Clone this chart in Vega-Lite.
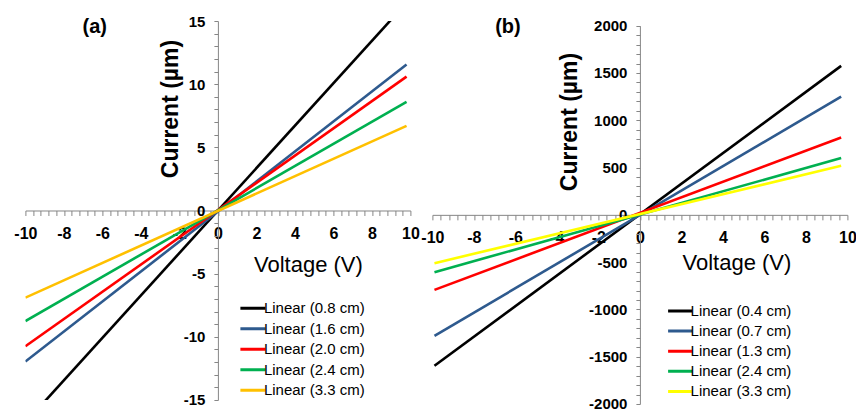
{
  "$schema": "https://vega.github.io/schema/vega-lite/v6.json",
  "autosize": {"type": "pad"},
  "padding": {"left": 13.4, "top": 14, "right": 0, "bottom": 0},
  "bounds": "flush",
  "spacing": 22,
  "background": "white",
  "config": {"view": {"stroke": null}, "font": "Liberation Sans"},
  "resolve": {"scale": {"x": "independent", "y": "independent", "color": "independent"}, "legend": {"color": "independent"}},
  "hconcat": [
    {
      "width": 385,
      "height": 379,
      "layer": [
        {
          "data": {"values": [
            {"series": "Linear (0.8 cm)", "V": -10, "I": -16.8},
            {"series": "Linear (0.8 cm)", "V": 9.8, "I": 16.45},
            {"series": "Linear (1.6 cm)", "V": -10, "I": -11.95},
            {"series": "Linear (1.6 cm)", "V": 9.8, "I": 11.55},
            {"series": "Linear (2.0 cm)", "V": -10, "I": -10.75},
            {"series": "Linear (2.0 cm)", "V": 9.8, "I": 10.6},
            {"series": "Linear (2.4 cm)", "V": -10, "I": -8.75},
            {"series": "Linear (2.4 cm)", "V": 9.8, "I": 8.6},
            {"series": "Linear (3.3 cm)", "V": -10, "I": -6.9},
            {"series": "Linear (3.3 cm)", "V": 9.8, "I": 6.7}
          ]},
          "mark": {"type": "line", "strokeWidth": 2.6, "clip": true},
          "encoding": {
            "x": {
              "field": "V", "type": "quantitative",
              "scale": {"domain": [-10, 10], "nice": false, "zero": false},
              "axis": {
                "orient": "bottom", "offset": -189.5, "grid": false, "tickCount": 500,
                "values": [-10,-9.6,-9.2,-8.8,-8.4,-8,-7.6,-7.2,-6.8,-6.4,-6,-5.6,-5.2,-4.8,-4.4,-4,-3.6,-3.2,-2.8,-2.4,-2,-1.6,-1.2,-0.8,-0.4,0,0.4,0.8,1.2,1.6,2,2.4,2.8,3.2,3.6,4,4.4,4.8,5.2,5.6,6,6.4,6.8,7.2,7.6,8,8.4,8.8,9.2,9.6,10],
                "labelExpr": "datum.value % 2 === 0 ? '' + datum.value : ''",
                "labelOverlap": false, "labelFlush": false,
                "domainColor": "#868686", "tickColor": "#868686", "tickSize": 5, "domainWidth": 1, "tickWidth": 1,
                "labelFont": "Liberation Sans", "labelFontSize": 16, "labelFontWeight": "bold", "labelColor": "black", "labelPadding": 10,
                "title": "Voltage (V)", "titleFont": "Liberation Sans", "titleFontSize": 22, "titleFontWeight": "normal", "titleColor": "black",
                "titleX": 282.5, "titleY": 61, "titleAlign": "center", "titleBaseline": "alphabetic"
              }
            },
            "y": {
              "field": "I", "type": "quantitative",
              "scale": {"domain": [-15, 15], "nice": false, "zero": false},
              "axis": {
                "orient": "left", "offset": -192.5, "grid": false, "tickCount": 500,
                "values": [-15,-14,-13,-12,-11,-10,-9,-8,-7,-6,-5,-4,-3,-2,-1,0,1,2,3,4,5,6,7,8,9,10,11,12,13,14,15],
                "labelExpr": "datum.value % 5 === 0 ? '' + datum.value : ''",
                "labelOverlap": false, "labelFlush": false,
                "domainColor": "#868686", "tickColor": "#868686", "tickSize": 4, "domainWidth": 1, "tickWidth": 1,
                "labelFont": "Liberation Sans", "labelFontSize": 15, "labelFontWeight": "bold", "labelColor": "black", "labelPadding": 9,
                "title": "Current (µm)", "titleFont": "Liberation Sans", "titleFontSize": 23, "titleFontWeight": "bold", "titleColor": "black",
                "titleAngle": -90, "titleX": -47, "titleY": 87.5, "titleAlign": "center", "titleBaseline": "middle"
              }
            },
            "color": {
              "field": "series", "type": "nominal",
              "scale": {"domain": ["Linear (0.8 cm)", "Linear (1.6 cm)", "Linear (2.0 cm)", "Linear (2.4 cm)", "Linear (3.3 cm)"],
                        "range": ["#000000", "#2E5A8E", "#FF0000", "#00B050", "#FFC000"]},
              "legend": {
                "orient": "none", "legendX": 213.5, "legendY": 279.8, "title": null, "padding": 0,
                "symbolType": "stroke", "symbolSize": 625, "symbolStrokeWidth": 3, "clipHeight": 15,
                "labelFont": "Liberation Sans", "labelFontSize": 15, "labelColor": "black", "labelOffset": -3, "rowPadding": 4.5
              }
            }
          }
        },
        {
          "data": {"values": [{}]},
          "mark": {"type": "text", "font": "Liberation Sans", "fontSize": 20, "fontWeight": "bold", "color": "black"},
          "encoding": {"x": {"datum": -6.4}, "y": {"datum": 14.55}, "text": {"value": "(a)"}}
        }
      ]
    },
    {
      "width": 415,
      "height": 383,
      "layer": [
        {
          "data": {"values": [
            {"series": "Linear (0.4 cm)", "V": -9.9, "I": -1596},
            {"series": "Linear (0.4 cm)", "V": 9.7, "I": 1575},
            {"series": "Linear (0.7 cm)", "V": -9.9, "I": -1279},
            {"series": "Linear (0.7 cm)", "V": 9.7, "I": 1250},
            {"series": "Linear (1.3 cm)", "V": -9.9, "I": -793},
            {"series": "Linear (1.3 cm)", "V": 9.7, "I": 817},
            {"series": "Linear (2.4 cm)", "V": -9.9, "I": -606},
            {"series": "Linear (2.4 cm)", "V": 9.7, "I": 600},
            {"series": "Linear (3.3 cm)", "V": -9.9, "I": -511},
            {"series": "Linear (3.3 cm)", "V": 9.7, "I": 518}
          ]},
          "mark": {"type": "line", "strokeWidth": 2.6, "clip": true},
          "encoding": {
            "x": {
              "field": "V", "type": "quantitative",
              "scale": {"domain": [-10, 10], "nice": false, "zero": false},
              "axis": {
                "orient": "bottom", "offset": -189.15, "grid": false, "tickCount": 500,
                "values": [-10,-9.6,-9.2,-8.8,-8.4,-8,-7.6,-7.2,-6.8,-6.4,-6,-5.6,-5.2,-4.8,-4.4,-4,-3.6,-3.2,-2.8,-2.4,-2,-1.6,-1.2,-0.8,-0.4,0,0.4,0.8,1.2,1.6,2,2.4,2.8,3.2,3.6,4,4.4,4.8,5.2,5.6,6,6.4,6.8,7.2,7.6,8,8.4,8.8,9.2,9.6,10],
                "labelExpr": "datum.value % 2 === 0 ? '' + datum.value : ''",
                "labelOverlap": false, "labelFlush": false,
                "domainColor": "#868686", "tickColor": "#868686", "tickSize": 5, "domainWidth": 1, "tickWidth": 1,
                "labelFont": "Liberation Sans", "labelFontSize": 16, "labelFontWeight": "bold", "labelColor": "black", "labelPadding": 10,
                "title": "Voltage (V)", "titleFont": "Liberation Sans", "titleFontSize": 22, "titleFontWeight": "normal", "titleColor": "black",
                "titleX": 304, "titleY": 55, "titleAlign": "center", "titleBaseline": "alphabetic"
              }
            },
            "y": {
              "field": "I", "type": "quantitative",
              "scale": {"domain": [-2000, 2000], "nice": false, "zero": false, "range": [383, 4.7]},
              "axis": {
                "orient": "left", "offset": -207.5, "grid": false, "tickCount": 500,
                "values": [-2000,-1900,-1800,-1700,-1600,-1500,-1400,-1300,-1200,-1100,-1000,-900,-800,-700,-600,-500,-400,-300,-200,-100,0,100,200,300,400,500,600,700,800,900,1000,1100,1200,1300,1400,1500,1600,1700,1800,1900,2000],
                "labelExpr": "datum.value % 500 === 0 ? '' + datum.value : ''",
                "labelOverlap": false, "labelFlush": false,
                "domainColor": "#868686", "tickColor": "#868686", "tickSize": 4, "domainWidth": 1, "tickWidth": 1,
                "labelFont": "Liberation Sans", "labelFontSize": 15, "labelFontWeight": "bold", "labelColor": "black", "labelPadding": 9,
                "title": "Current (µm)", "titleFont": "Liberation Sans", "titleFontSize": 23, "titleFontWeight": "bold", "titleColor": "black",
                "titleAngle": -90, "titleX": -70, "titleY": 100.5, "titleAlign": "center", "titleBaseline": "middle"
              }
            },
            "color": {
              "field": "series", "type": "nominal",
              "scale": {"domain": ["Linear (0.4 cm)", "Linear (0.7 cm)", "Linear (1.3 cm)", "Linear (2.4 cm)", "Linear (3.3 cm)"],
                        "range": ["#000000", "#2E5A8E", "#FF0000", "#00B050", "#FFFF00"]},
              "legend": {
                "orient": "none", "legendX": 234.2, "legendY": 282.5, "title": null, "padding": 0,
                "symbolType": "stroke", "symbolSize": 576, "symbolStrokeWidth": 3, "clipHeight": 15,
                "labelFont": "Liberation Sans", "labelFontSize": 15, "labelColor": "black", "labelOffset": -3, "rowPadding": 4.1
              }
            }
          }
        },
        {
          "data": {"values": [{}]},
          "mark": {"type": "text", "font": "Liberation Sans", "fontSize": 20, "fontWeight": "bold", "color": "black"},
          "encoding": {"x": {"datum": -6.36}, "y": {"datum": 1985}, "text": {"value": "(b)"}}
        }
      ]
    }
  ]
}
